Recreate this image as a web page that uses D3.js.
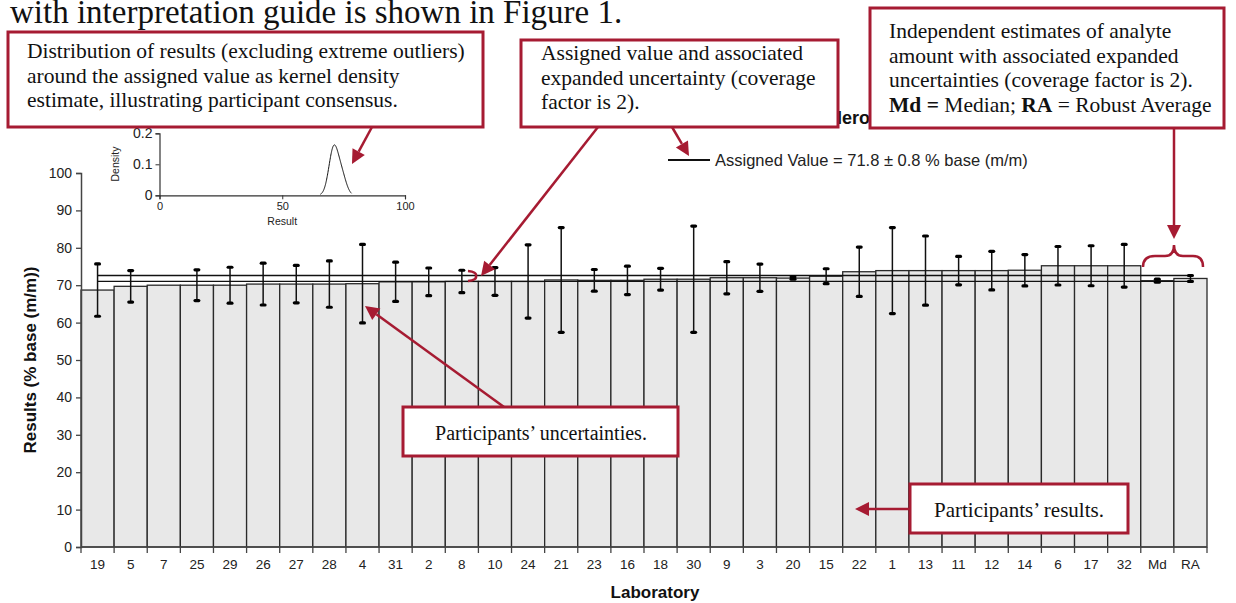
<!DOCTYPE html>
<html><head><meta charset="utf-8">
<script src="https://cdn.jsdelivr.net/npm/d3@7"></script>
<style>
html,body{margin:0;padding:0;background:#fff;}
svg{display:block;}
</style></head>
<body>
<svg id="c" width="1236" height="603"></svg>
<script>
// ---------------- data ----------------
const labs = ["19","5","7","25","29","26","27","28","4","31","2","8","10","24","21","23","16","18","30","9","3","20","15","22","1","13","11","12","14","6","17","32","Md","RA"];
const results = [68.7,69.7,70.0,70.0,70.0,70.3,70.3,70.3,70.4,70.9,70.9,71.0,71.0,71.0,71.4,71.3,71.3,71.6,71.6,72.0,72.0,71.9,72.4,73.6,73.9,73.9,73.9,73.9,74.0,75.2,75.2,75.2,71.2,71.8];
const uncertainties = [7.0,4.2,null,4.1,4.8,5.6,5.0,6.2,10.5,5.25,3.7,3.0,3.7,9.8,14.0,2.9,3.8,2.9,14.2,4.3,3.65,0.3,2.0,6.6,11.5,9.25,3.8,5.15,4.2,5.15,5.35,5.7,0.4,0.8];
const assignedValue = 71.8;
const assignedU = 0.8;
const yTicks = [0,10,20,30,40,50,60,70,80,90,100];
const insetXTicks = [0,50,100];
const insetYTicks = [0,0.1,0.2];
const kdeBandwidth = 1.7;

const RED = "#a61b32";
const SERIF = "'Liberation Serif','Times New Roman',serif";
const SANS = "'Liberation Sans',Arial,sans-serif";

const svg = d3.select("#c");

// ---------------- top text ----------------
svg.append("text").attr("x",10).attr("y",23).attr("font-family",SERIF).attr("font-size",33)
  .attr("fill","#111").text("with interpretation guide is shown in Figure 1.");

// title (mostly hidden behind the annotation boxes)
svg.append("text").attr("x",829).attr("y",124).attr("font-family",SANS).attr("font-size",18)
  .attr("font-weight","bold").attr("fill","#111").text("Heroin");

// ---------------- main chart ----------------
const x = d3.scaleBand().domain(labs).range([81,1207]).padding(0);
const y = d3.scaleLinear().domain([0,100]).range([547,173]);

const g = svg.append("g");

// bars
g.selectAll("rect.bar").data(labs).join("rect")
  .attr("x",d=>x(d)).attr("width",x.bandwidth())
  .attr("y",(d,i)=>y(results[i])).attr("height",(d,i)=>y(0)-y(results[i]))
  .attr("fill","#e8e8e8").attr("stroke","#2a2a2a").attr("stroke-width",1.3);

// assigned value lines
const xFirst = x(labs[0])+x.bandwidth()/2, xLast = x(labs[labs.length-1])+x.bandwidth()/2+3;
[assignedValue+assignedU, assignedValue-assignedU].forEach(v=>{
  g.append("line").attr("x1",xFirst).attr("x2",xLast).attr("y1",y(v)).attr("y2",y(v))
    .attr("stroke","#111").attr("stroke-width",1.3);
});

// error bars
const eb = g.selectAll("g.eb").data(labs.map((d,i)=>({lab:d,v:results[i],u:uncertainties[i]})).filter(d=>d.u!=null))
  .join("g");
eb.append("line").attr("x1",d=>x(d.lab)+x.bandwidth()/2).attr("x2",d=>x(d.lab)+x.bandwidth()/2)
  .attr("y1",d=>y(d.v+d.u)).attr("y2",d=>y(d.v-d.u)).attr("stroke","#111").attr("stroke-width",1.5);
["up","dn"].forEach(k=>{
  eb.append("rect").attr("x",d=>x(d.lab)+x.bandwidth()/2-3.5).attr("width",7).attr("height",3.2)
    .attr("y",d=>y(k==="up"?d.v+d.u:d.v-d.u)-1.6).attr("rx",1.6).attr("fill","#000");
});

// axes
const yAxis = d3.axisLeft(y).tickValues(yTicks).tickSize(5).tickPadding(4);
const ya = svg.append("g").attr("transform","translate(81,0)").call(yAxis);
ya.select(".domain").attr("stroke","#444").attr("stroke-width",1.5);
ya.selectAll(".tick line").attr("stroke","#444").attr("stroke-width",1.3);
ya.selectAll(".tick text").attr("font-family",SANS).attr("font-size",14).attr("fill","#222");

const xa = svg.append("g").attr("transform","translate(0,547)");
xa.append("line").attr("x1",81).attr("x2",1207).attr("y1",0).attr("y2",0).attr("stroke","#444").attr("stroke-width",1.5);
const bounds = labs.map(d=>x(d)).concat([x(labs[labs.length-1])+x.bandwidth()]);
xa.selectAll("line.t").data(bounds).join("line").attr("class","t")
  .attr("x1",d=>d).attr("x2",d=>d).attr("y1",0).attr("y2",6).attr("stroke","#444").attr("stroke-width",1.3);
xa.selectAll("text").data(labs).join("text")
  .attr("x",d=>x(d)+x.bandwidth()/2).attr("y",22).attr("text-anchor","middle")
  .attr("font-family",SANS).attr("font-size",13.5).attr("fill","#222").text(d=>d);

svg.append("text").attr("transform","translate(36,360) rotate(-90)").attr("text-anchor","middle")
  .attr("font-family",SANS).attr("font-size",17).attr("font-weight","bold").attr("fill","#111")
  .text("Results (% base (m/m))");
svg.append("text").attr("x",655).attr("y",598).attr("text-anchor","middle")
  .attr("font-family",SANS).attr("font-size",17).attr("font-weight","bold").attr("fill","#111")
  .text("Laboratory");

// legend
svg.append("line").attr("x1",668).attr("x2",710).attr("y1",160).attr("y2",160).attr("stroke","#111").attr("stroke-width",2);
svg.append("text").attr("x",715).attr("y",166).attr("font-family",SANS).attr("font-size",16.5).attr("fill","#222")
  .text("Assigned Value = 71.8 ± 0.8 % base (m/m)");

// ---------------- inset density ----------------
const ix = d3.scaleLinear().domain([0,100]).range([159.5,405]);
const iy = d3.scaleLinear().domain([0,0.2]).range([195.3,133.3]);
const inset = svg.append("g");
const ixa = inset.append("g").attr("transform","translate(0,195.3)").call(d3.axisBottom(ix).tickValues(insetXTicks).tickSize(4).tickPadding(3));
const iya = inset.append("g").attr("transform","translate(159.5,0)").call(d3.axisLeft(iy).tickValues(insetYTicks).tickSize(4).tickPadding(3).tickFormat(d=>d===0?"0":d));
[ixa,iya].forEach(a=>{
  a.select(".domain").attr("stroke","#333").attr("stroke-width",1.2);
  a.selectAll(".tick line").attr("stroke","#333");
});
ixa.selectAll(".tick text").attr("font-family",SANS).attr("font-size",11).attr("fill","#222");
iya.selectAll(".tick text").attr("font-family",SANS).attr("font-size",14).attr("fill","#222");
inset.append("text").attr("x",ix(50)).attr("y",225).attr("text-anchor","middle")
  .attr("font-family",SANS).attr("font-size",10.5).attr("fill","#222").text("Result");
inset.append("text").attr("transform","translate(119,164) rotate(-90)").attr("text-anchor","middle")
  .attr("font-family",SANS).attr("font-size",10.5).attr("fill","#222").text("Density");

// kernel density estimate from the participants' results
const participantResults = results.slice(0,32);
const gauss = u => Math.exp(-0.5*u*u)/Math.sqrt(2*Math.PI);
const kdeX = d3.range(65.5, 78.3, 0.1);
const kde = kdeX.map(t=>[t, d3.mean(participantResults, r=>gauss((t-r)/kdeBandwidth))/kdeBandwidth]);
inset.append("path").datum(kde).attr("fill","none").attr("stroke","#111").attr("stroke-width",1)
  .attr("d",d3.line().x(d=>ix(d[0])).y(d=>iy(d[1])).curve(d3.curveBasis));

// ---------------- annotations ----------------
const ann = svg.append("g");
function box(x0,y0,x1,y1){
  ann.append("rect").attr("x",x0).attr("y",y0).attr("width",x1-x0).attr("height",y1-y0)
    .attr("fill","#fff").attr("stroke",RED).attr("stroke-width",3);
}
function lines(xs,ys,arr,size,step,anchor){
  arr.forEach((t,i)=>{
    const tx = ann.append("text").attr("x",xs).attr("y",ys+i*step).attr("font-family",SERIF)
      .attr("font-size",size).attr("fill","#111").attr("text-anchor",anchor||"start");
    if(typeof t==="string") tx.text(t);
    else t.forEach(p=>tx.append("tspan").attr("font-weight",p.b?"bold":null).text(p.t));
  });
}
function arrow(x0,y0,x1,y1){
  const a = Math.atan2(y1-y0,x1-x0), L=14, W=7;
  const bx = x1-L*Math.cos(a), by = y1-L*Math.sin(a);
  ann.append("line").attr("x1",x0).attr("y1",y0).attr("x2",bx).attr("y2",by).attr("stroke",RED).attr("stroke-width",2.5);
  ann.append("path").attr("d",`M${x1},${y1}L${bx+W*Math.sin(a)},${by-W*Math.cos(a)}L${bx-W*Math.sin(a)},${by+W*Math.cos(a)}Z`).attr("fill",RED);
}

box(8,32,483,127);
lines(27,58,["Distribution of results (excluding extreme outliers)","around the assigned value as kernel density","estimate, illustrating participant consensus."],21.5,24.5);
arrow(372,127,352,164);

box(521,40,838,127);
lines(541,60,["Assigned value and associated","expanded uncertainty (coverage","factor is 2)."],21.5,24.5);
arrow(598,127,481,276);
arrow(672,127,689,156);
ann.append("path").attr("d","M468,271 Q477,272 476,276 Q477,280 468,281").attr("fill","none").attr("stroke",RED).attr("stroke-width",2.5);

box(870,8,1224,128);
lines(889,38,["Independent estimates of analyte","amount with associated expanded","uncertainties (coverage factor is 2).",[{t:"Md =",b:true},{t:" Median; "},{t:"RA",b:true},{t:" = Robust Average"}]],21.5,24.5);
arrow(1174,128,1174,239);
ann.append("path").attr("d","M1143,267 Q1143,256 1155,256 L1165,256 Q1174,256 1174,245 Q1174,256 1183,256 L1193,256 Q1203,256 1203,267")
  .attr("fill","none").attr("stroke",RED).attr("stroke-width",2.5);

box(403,407,678,456);
lines(541,440,["Participants’ uncertainties."],20,0,"middle");
arrow(504,407,365,306);

box(910,484,1128,533);
lines(1019,517,["Participants’ results."],21,0,"middle");
arrow(910,509,855,509);
</script>
</body></html>
